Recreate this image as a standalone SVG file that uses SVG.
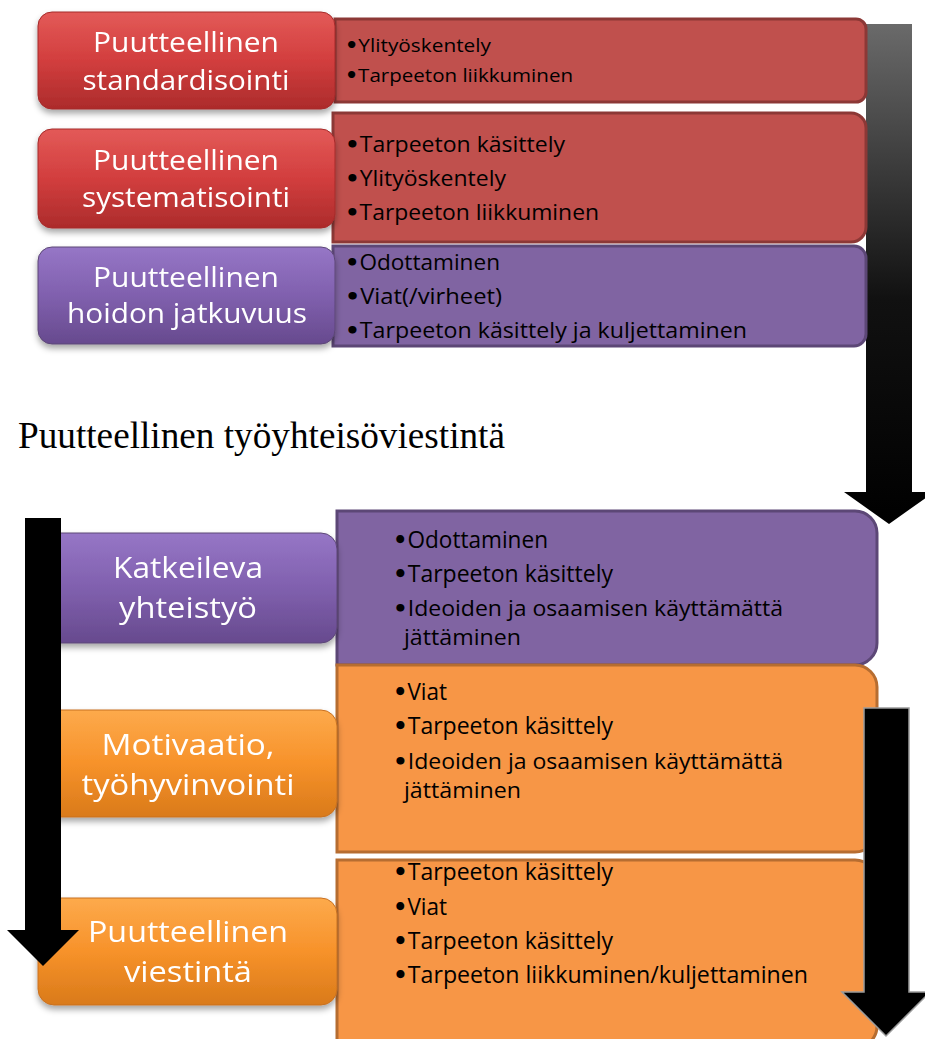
<svg xmlns="http://www.w3.org/2000/svg" width="925" height="1039" viewBox="0 0 925 1039">
<defs>
<style>
.lt{font-family:"Open Sans","Liberation Sans",sans-serif;fill:#fff;text-anchor:middle}
.rt{font-family:"Open Sans","Liberation Sans",sans-serif;fill:#000}
.b{font-family:"DejaVu Sans",sans-serif;font-weight:bold}
.title{font-family:"Liberation Serif","Times New Roman",serif;font-size:37px;fill:#000}
.redR{fill:#c0504d;stroke:#8c3836;stroke-width:3}
.purR{fill:#8064a2;stroke:#5c4776;stroke-width:3}
.orR{fill:#f79646;stroke:#b66d31;stroke-width:3}
.redL{fill:url(#gRed);stroke:#a52a2a;stroke-width:1}
.purL{fill:url(#gPur);stroke:#5c4776;stroke-width:1}
.orL{fill:url(#gOr);stroke:#c87020;stroke-width:1}
</style>
<linearGradient id="gRed" x1="0" y1="0" x2="0" y2="1"><stop offset="0" stop-color="#e35a58"/><stop offset="0.5" stop-color="#d23e3e"/><stop offset="1" stop-color="#ac2b2b"/></linearGradient>
<linearGradient id="gPur" x1="0" y1="0" x2="0" y2="1"><stop offset="0" stop-color="#9676c6"/><stop offset="0.5" stop-color="#8060ae"/><stop offset="1" stop-color="#674a8e"/></linearGradient>
<linearGradient id="gOr" x1="0" y1="0" x2="0" y2="1"><stop offset="0" stop-color="#fdaa4c"/><stop offset="0.5" stop-color="#f7922a"/><stop offset="1" stop-color="#d97a1a"/></linearGradient>
<linearGradient id="gArrow" gradientUnits="userSpaceOnUse" x1="0" y1="24" x2="0" y2="524"><stop offset="0" stop-color="#6a6a6a"/><stop offset="0.55" stop-color="#111"/><stop offset="1" stop-color="#000"/></linearGradient>
<filter id="sh" x="-10%" y="-10%" width="120%" height="140%"><feDropShadow dx="0" dy="4" stdDeviation="3" flood-color="#000" flood-opacity="0.35"/></filter>
</defs>
<rect width="925" height="1039" fill="#fff"/>

<g id="connectors-back">
<path d="M866,24 H912 V492 H934 L889,524 L844,492 H866 Z" fill="url(#gArrow)"/>
</g>

<g id="detail-standardisointi">
<path class="redR" d="M335,19 H856 A10,10 0 0 1 866,29 V92 A10,10 0 0 1 856,102 H335 Z"/>
<text class="rt" font-size="19" x="345" y="52" textLength="146" lengthAdjust="spacingAndGlyphs"><tspan class="b">•</tspan>Ylityöskentely</text>
<text class="rt" font-size="19" x="345" y="82" textLength="228" lengthAdjust="spacingAndGlyphs"><tspan class="b">•</tspan>Tarpeeton liikkuminen</text>
</g>
<g id="detail-systematisointi">
<path class="redR" d="M333,113 H851 A15,15 0 0 1 866,128 V227 A15,15 0 0 1 851,242 H333 Z"/>
<text class="rt" font-size="22" x="345" y="152" textLength="220" lengthAdjust="spacingAndGlyphs"><tspan class="b">•</tspan>Tarpeeton käsittely</text>
<text class="rt" font-size="22" x="345" y="186" textLength="161" lengthAdjust="spacingAndGlyphs"><tspan class="b">•</tspan>Ylityöskentely</text>
<text class="rt" font-size="22" x="345" y="220" textLength="254" lengthAdjust="spacingAndGlyphs"><tspan class="b">•</tspan>Tarpeeton liikkuminen</text>
</g>
<g id="detail-jatkuvuus">
<path class="purR" d="M333,246 H854 A12,12 0 0 1 866,258 V334 A12,12 0 0 1 854,346 H333 Z"/>
<text class="rt" font-size="22" x="345" y="270" textLength="155" lengthAdjust="spacingAndGlyphs"><tspan class="b">•</tspan>Odottaminen</text>
<text class="rt" font-size="22" x="345" y="304" textLength="157" lengthAdjust="spacingAndGlyphs"><tspan class="b">•</tspan>Viat(/virheet)</text>
<text class="rt" font-size="22" x="345" y="338" textLength="402" lengthAdjust="spacingAndGlyphs"><tspan class="b">•</tspan>Tarpeeton käsittely ja kuljettaminen</text>
</g>

<g id="node-standardisointi" filter="url(#sh)">
<rect class="redL" x="38" y="12" width="297" height="97" rx="14"/>
<text class="lt" font-size="28" x="186" y="52" textLength="186" lengthAdjust="spacingAndGlyphs">Puutteellinen</text>
<text class="lt" font-size="28" x="186" y="90" textLength="207" lengthAdjust="spacingAndGlyphs">standardisointi</text>
</g>
<g id="node-systematisointi" filter="url(#sh)">
<rect class="redL" x="38" y="129" width="297" height="99" rx="14"/>
<text class="lt" font-size="28" x="186" y="170" textLength="186" lengthAdjust="spacingAndGlyphs">Puutteellinen</text>
<text class="lt" font-size="28" x="186" y="207" textLength="208" lengthAdjust="spacingAndGlyphs">systematisointi</text>
</g>
<g id="node-jatkuvuus" filter="url(#sh)">
<rect class="purL" x="38" y="247" width="297" height="97" rx="14"/>
<text class="lt" font-size="28" x="186" y="287" textLength="186" lengthAdjust="spacingAndGlyphs">Puutteellinen</text>
<text class="lt" font-size="28" x="187" y="323" textLength="240" lengthAdjust="spacingAndGlyphs">hoidon jatkuvuus</text>
</g>

<g id="title">
<text class="title" x="18" y="448" textLength="487" lengthAdjust="spacingAndGlyphs">Puutteellinen työyhteisöviestintä</text>
</g>

<g id="detail-katkeileva">
<path class="purR" d="M337,511 H855 A22,22 0 0 1 877,533 V643 A22,22 0 0 1 855,665 H337 Z"/>
<text class="rt" font-size="23" x="393" y="548" textLength="155" lengthAdjust="spacingAndGlyphs"><tspan class="b">•</tspan>Odottaminen</text>
<text class="rt" font-size="23" x="393" y="582" textLength="220" lengthAdjust="spacingAndGlyphs"><tspan class="b">•</tspan>Tarpeeton käsittely</text>
<text class="rt" font-size="21" x="393" y="616" textLength="390" lengthAdjust="spacingAndGlyphs"><tspan class="b">•</tspan>Ideoiden ja osaamisen käyttämättä</text>
<text class="rt" font-size="21" x="404" y="645" textLength="117" lengthAdjust="spacingAndGlyphs">jättäminen</text>
</g>
<g id="detail-motivaatio">
<path class="orR" d="M337,665 H855 A22,22 0 0 1 877,687 V830 A22,22 0 0 1 855,852 H337 Z"/>
<text class="rt" font-size="23" x="393" y="700" textLength="54" lengthAdjust="spacingAndGlyphs"><tspan class="b">•</tspan>Viat</text>
<text class="rt" font-size="23" x="393" y="734" textLength="220" lengthAdjust="spacingAndGlyphs"><tspan class="b">•</tspan>Tarpeeton käsittely</text>
<text class="rt" font-size="21" x="393" y="769" textLength="390" lengthAdjust="spacingAndGlyphs"><tspan class="b">•</tspan>Ideoiden ja osaamisen käyttämättä</text>
<text class="rt" font-size="21" x="404" y="798" textLength="117" lengthAdjust="spacingAndGlyphs">jättäminen</text>
</g>
<g id="detail-viestinta">
<path class="orR" d="M337,860 H855 A22,22 0 0 1 877,882 V1026 A22,22 0 0 1 855,1048 H337 Z"/>
<text class="rt" font-size="23" x="393" y="880" textLength="220" lengthAdjust="spacingAndGlyphs"><tspan class="b">•</tspan>Tarpeeton käsittely</text>
<text class="rt" font-size="23" x="393" y="915" textLength="54" lengthAdjust="spacingAndGlyphs"><tspan class="b">•</tspan>Viat</text>
<text class="rt" font-size="23" x="393" y="949" textLength="220" lengthAdjust="spacingAndGlyphs"><tspan class="b">•</tspan>Tarpeeton käsittely</text>
<text class="rt" font-size="23" x="393" y="983" textLength="415" lengthAdjust="spacingAndGlyphs"><tspan class="b">•</tspan>Tarpeeton liikkuminen/kuljettaminen</text>
</g>

<g id="node-katkeileva" filter="url(#sh)">
<rect class="purL" x="38" y="533" width="299" height="110" rx="16"/>
<text class="lt" font-size="30" x="188" y="578" textLength="150" lengthAdjust="spacingAndGlyphs">Katkeileva</text>
<text class="lt" font-size="30" x="188" y="618" textLength="138" lengthAdjust="spacingAndGlyphs">yhteistyö</text>
</g>
<g id="node-motivaatio" filter="url(#sh)">
<rect class="orL" x="38" y="710" width="299" height="107" rx="16"/>
<text class="lt" font-size="30" x="188" y="755" textLength="173" lengthAdjust="spacingAndGlyphs">Motivaatio,</text>
<text class="lt" font-size="30" x="188" y="795" textLength="213" lengthAdjust="spacingAndGlyphs">työhyvinvointi</text>
</g>
<g id="node-viestinta" filter="url(#sh)">
<rect class="orL" x="38" y="898" width="299" height="107" rx="16"/>
<text class="lt" font-size="30" x="188" y="942" textLength="200" lengthAdjust="spacingAndGlyphs">Puutteellinen</text>
<text class="lt" font-size="30" x="188" y="982" textLength="128" lengthAdjust="spacingAndGlyphs">viestintä</text>
</g>

<g id="connectors">
<path d="M25,518 H61 V930 H79 L43,966 L7,930 H25 Z" fill="#000"/>
<path d="M864,708 H909 V992 H930 L886,1036 L842,992 H864 Z" fill="#000" stroke="#9a9a9a" stroke-width="1.5"/>
</g>
</svg>
